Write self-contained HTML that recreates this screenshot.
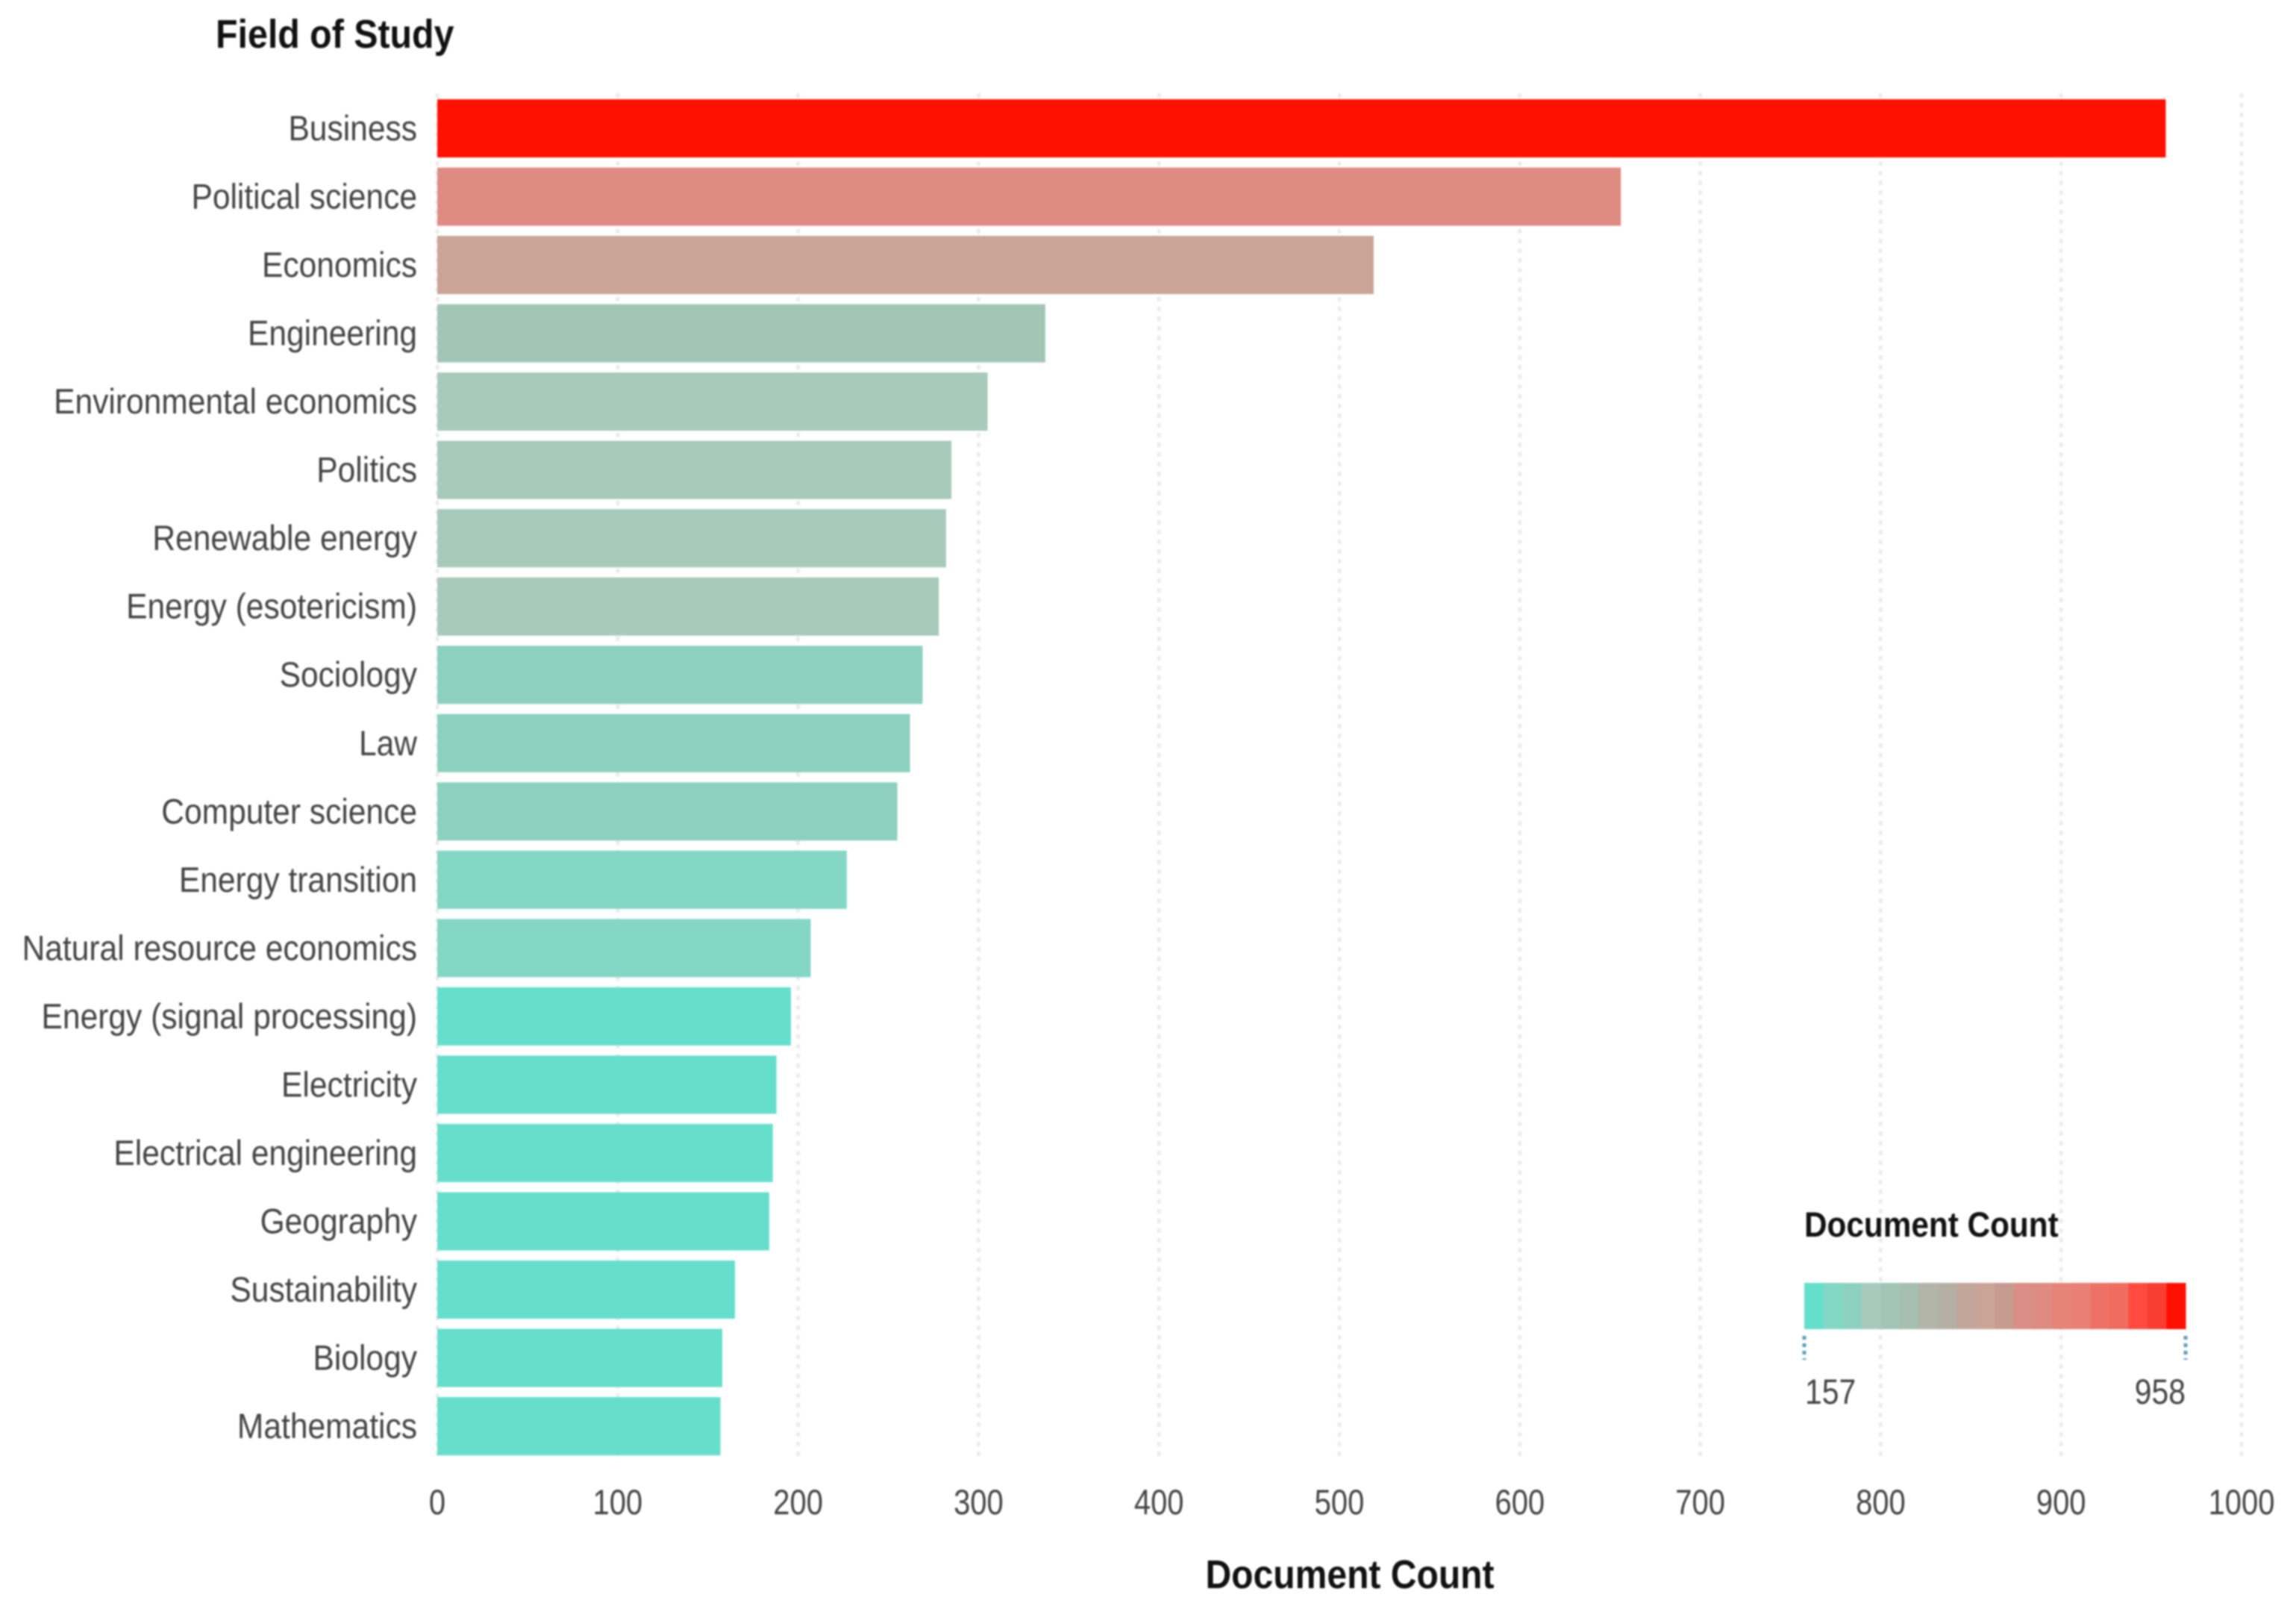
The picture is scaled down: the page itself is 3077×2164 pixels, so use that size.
<!DOCTYPE html>
<html lang="en">
<head>
<meta charset="utf-8">
<title>Field of Study</title>
<style>
  html, body { margin: 0; padding: 0; background: #fff; }
  body { width: 3077px; height: 2164px; overflow: hidden; }
  svg { display: block; filter: blur(1.1px); font-family: "Liberation Sans", sans-serif; }
</style>
</head>
<body>
<svg id="chart" xmlns="http://www.w3.org/2000/svg" width="3077" height="2164" viewBox="0 0 3077 2164"></svg>
<script>
const categories = ["Business","Political science","Economics","Engineering","Environmental economics","Politics","Renewable energy","Energy (esotericism)","Sociology","Law","Computer science","Energy transition","Natural resource economics","Energy (signal processing)","Electricity","Electrical engineering","Geography","Sustainability","Biology","Mathematics"];
const documentCounts = [958,656,519,337,305,285,282,278,269,262,255,227,207,196,188,186,184,165,158,157];
const xTickLabels = [0,100,200,300,400,500,600,700,800,900,1000];
const legendLabels = [157,958];
const palette = ["#65dfcb","#84d7c5","#8cd1c0","#a8cabb","#a2c6b6","#a6bfb0","#b3b5a8","#b5b0a4","#c2a69a","#c9a497","#c59c8f","#da8e85","#de8b82","#e6847a","#e98076","#ee7168","#f06c60","#ff4b40","#f93d33","#ff1000"];

const svg = document.getElementById('chart');
const NS = 'http://www.w3.org/2000/svg';
const plot = { left: 586, right: 3004, top: 125, bottom: 1954, firstBarTop: 133, step: 91.53, barHeight: 78 };
const legendBox = { left: 2418, right: 2929, top: 1719, bottom: 1781 };

function xScale(v) { return plot.left + (v / 1000) * (plot.right - plot.left); }
function yScale(i) { return plot.firstBarTop + i * plot.step; }
function colorFor(v) {
  const lo = legendLabels[0], hi = legendLabels[1];
  const t = (v - lo) / (hi - lo);
  const idx = Math.max(0, Math.min(palette.length - 1, Math.floor(t * palette.length)));
  return palette[idx];
}
function make(tag, attrs, parent) {
  const el = document.createElementNS(NS, tag);
  for (const k in attrs) el.setAttribute(k, attrs[k]);
  parent.appendChild(el);
  return el;
}
function label(parent, str, x, y, size, sx, anchor, weight, fill) {
  const t = make('text', {
    transform: 'translate(' + x + ' ' + y + ') scale(' + sx + ' 1)',
    'font-size': size, 'text-anchor': anchor, 'font-weight': weight, fill: fill
  }, parent);
  t.textContent = str;
  return t;
}

xTickLabels.forEach(function (v) {
  const line = make('line', {
    x1: xScale(v), x2: xScale(v), y1: plot.top, y2: plot.bottom,
    stroke: '#ececec', 'stroke-width': 5, 'stroke-dasharray': '6 7'
  }, svg);
  
  
  const tick = label(svg, String(v), xScale(v), 2029, 47, 0.85, 'middle', 'normal', '#444');
  
  
});

categories.forEach(function (name, i) {
  const v = documentCounts[i];
  const bar = make('rect', {
    x: xScale(0), y: yScale(i), width: xScale(v) - xScale(0), height: plot.barHeight,
    fill: colorFor(v)
  }, svg);
  
  
  const cat = label(svg, name, 559, yScale(i) + 55, 47, 0.905, 'end', 'normal', '#444');
  
  
});

const yTitle = label(svg, 'Field of Study', 289, 64, 54, 0.895, 'start', 'bold', '#111');



const xTitle = label(svg, 'Document Count', 1809, 2128, 54, 0.89, 'middle', 'bold', '#111');



const legendTitle = label(svg, 'Document Count', 2418, 1657, 47, 0.9, 'start', 'bold', '#111');



const swatchWidth = (legendBox.right - legendBox.left) / palette.length;
palette.forEach(function (c, i) {
  const s = make('rect', {
    x: legendBox.left + i * swatchWidth, y: legendBox.top,
    width: swatchWidth + 0.5, height: legendBox.bottom - legendBox.top, fill: c
  }, svg);
  
  
});

[legendBox.left, legendBox.right].forEach(function (x, i) {
  const m = make('line', {
    x1: x, x2: x, y1: 1790, y2: 1822,
    stroke: '#5b9dbf', 'stroke-width': 5, 'stroke-dasharray': '5 5'
  }, svg);
  
  
});

const legendMin = label(svg, String(legendLabels[0]), 2419, 1881, 47, 0.87, 'start', 'normal', '#444');


const legendMax = label(svg, String(legendLabels[1]), 2929, 1881, 47, 0.87, 'end', 'normal', '#444');


</script>
</body>
</html>
